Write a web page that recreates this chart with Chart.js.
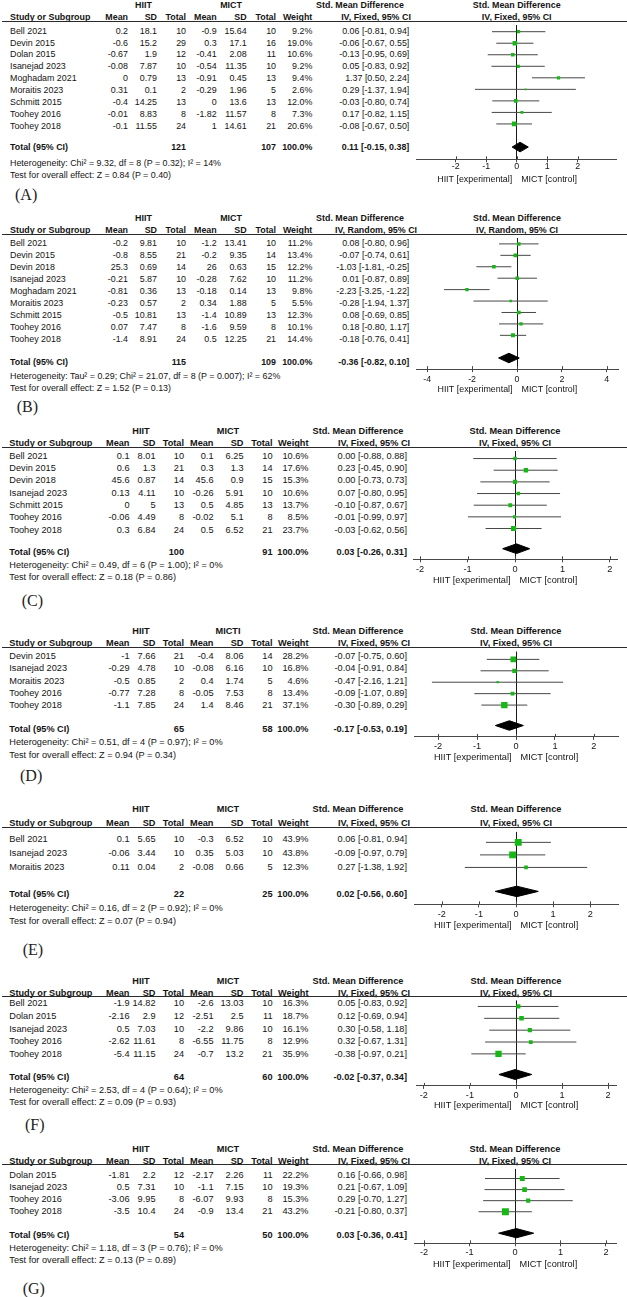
<!DOCTYPE html>
<html>
<head>
<meta charset="utf-8">
<script src="https://cdn.jsdelivr.net/npm/chart.js"></script>
<style>
html,body{margin:0;padding:0;background:#fff;}
#page{position:relative;width:627px;height:1297px;overflow:hidden;background:#fff;font-family:"Liberation Sans",Arial,Helvetica,sans-serif;font-size:9px;color:#141414;}
.t{position:absolute;white-space:nowrap;line-height:12px;height:12px;}
.b{font-weight:bold;}
.hl{position:absolute;height:1px;background:#2a2a2a;}
.lab{position:absolute;font-family:"Liberation Serif","Times New Roman",serif;font-size:16px;line-height:20px;white-space:nowrap;color:#222;}
canvas{position:absolute;}
</style>
</head>
<body>
<div id="page"></div>
<script>
// ---------------- DATA ----------------
// Panel A
const studiesA = ["Bell 2021","Devin 2015","Dolan 2015","Isanejad 2023","Moghadam 2021","Moraitis 2023","Schmitt 2015","Toohey 2016","Toohey 2018"];
const hiitMeanA = [0.2,-0.6,-0.67,-0.08,0,0.31,-0.4,-0.01,-0.1];
const hiitSdA = [18.1,15.2,1.9,7.87,0.79,0.1,14.25,8.83,11.55];
const hiitNA = [10,29,12,10,13,2,13,8,24];
const mictMeanA = [-0.9,0.3,-0.41,-0.54,-0.91,-0.29,0,-1.82,1];
const mictSdA = [15.64,17.1,2.08,11.35,0.45,1.96,13.6,11.57,14.61];
const mictNA = [10,16,11,10,13,5,13,8,21];
const weightA = [9.2,19.0,10.6,9.2,9.4,2.6,12.0,7.3,20.6];
const smdA = [0.06,-0.06,-0.13,0.05,1.37,0.29,-0.03,0.17,-0.08];
const ciLowA = [-0.81,-0.67,-0.95,-0.83,0.50,-1.37,-0.80,-0.82,-0.67];
const ciHighA = [0.94,0.55,0.69,0.92,2.24,1.94,0.74,1.15,0.50];
const totalNA = [121,107];
const totalSmdA = [0.11,-0.15,0.38];
const statsA = ["Heterogeneity: Chi\u00b2 = 9.32, df = 8 (P = 0.32); I\u00b2 = 14%","Test for overall effect: Z = 0.84 (P = 0.40)"];
const ticksA = [-2,-1,0,1,2];

// Panel B
const studiesB = ["Bell 2021","Devin 2015","Devin 2018","Isanejad 2023","Moghadam 2021","Moraitis 2023","Schmitt 2015","Toohey 2016","Toohey 2018"];
const hiitMeanB = [-0.2,-0.8,25.3,-0.21,-0.81,-0.23,-0.5,0.07,-1.4];
const hiitSdB = [9.81,8.55,0.69,5.87,0.36,0.57,10.81,7.47,8.91];
const hiitNB = [10,21,14,10,13,2,13,8,24];
const mictMeanB = [-1.2,-0.2,26,-0.28,-0.18,0.34,-1.4,-1.6,0.5];
const mictSdB = [13.41,9.35,0.63,7.62,0.14,1.88,10.89,9.59,12.25];
const mictNB = [10,14,15,10,13,5,13,8,21];
const weightB = [11.2,13.4,12.2,11.2,9.8,5.5,12.3,10.1,14.4];
const smdB = [0.08,-0.07,-1.03,0.01,-2.23,-0.28,0.08,0.18,-0.18];
const ciLowB = [-0.80,-0.74,-1.81,-0.87,-3.25,-1.94,-0.69,-0.80,-0.76];
const ciHighB = [0.96,0.61,-0.25,0.89,-1.22,1.37,0.85,1.17,0.41];
const totalNB = [115,109];
const totalSmdB = [-0.36,-0.82,0.10];
const statsB = ["Heterogeneity: Tau\u00b2 = 0.29; Chi\u00b2 = 21.07, df = 8 (P = 0.007); I\u00b2 = 62%","Test for overall effect: Z = 1.52 (P = 0.13)"];
const ticksB = [-4,-2,0,2,4];

// Panel C
const studiesC = ["Bell 2021","Devin 2015","Devin 2018","Isanejad 2023","Schmitt 2015","Toohey 2016","Toohey 2018"];
const hiitMeanC = [0.1,0.6,45.6,0.13,0,-0.06,0.3];
const hiitSdC = [8.01,1.3,0.87,4.11,5,4.49,6.84];
const hiitNC = [10,21,14,10,13,8,24];
const mictMeanC = [0.1,0.3,45.6,-0.26,0.5,-0.02,0.5];
const mictSdC = [6.25,1.3,0.9,5.91,4.85,5.1,6.52];
const mictNC = [10,14,15,10,13,8,21];
const weightC = [10.6,17.6,15.3,10.6,13.7,8.5,23.7];
const smdC = [0.00,0.23,0.00,0.07,-0.10,-0.01,-0.03];
const ciLowC = [-0.88,-0.45,-0.73,-0.80,-0.87,-0.99,-0.62];
const ciHighC = [0.88,0.90,0.73,0.95,0.67,0.97,0.56];
const totalNC = [100,91];
const totalSmdC = [0.03,-0.26,0.31];
const statsC = ["Heterogeneity: Chi\u00b2 = 0.49, df = 6 (P = 1.00); I\u00b2 = 0%","Test for overall effect: Z = 0.18 (P = 0.86)"];
const ticksC = [-2,-1,0,1,2];

// Panel D
const studiesD = ["Devin 2015","Isanejad 2023","Moraitis 2023","Toohey 2016","Toohey 2018"];
const hiitMeanD = [-1,-0.29,-0.5,-0.77,-1.1];
const hiitSdD = [7.66,4.78,0.85,7.28,7.85];
const hiitND = [21,10,2,8,24];
const mictMeanD = [-0.4,-0.08,0.4,-0.05,1.4];
const mictSdD = [8.06,6.16,1.74,7.53,8.46];
const mictND = [14,10,5,8,21];
const weightD = [28.2,16.8,4.6,13.4,37.1];
const smdD = [-0.07,-0.04,-0.47,-0.09,-0.30];
const ciLowD = [-0.75,-0.91,-2.16,-1.07,-0.89];
const ciHighD = [0.60,0.84,1.21,0.89,0.29];
const totalND = [65,58];
const totalSmdD = [-0.17,-0.53,0.19];
const statsD = ["Heterogeneity: Chi\u00b2 = 0.51, df = 4 (P = 0.97); I\u00b2 = 0%","Test for overall effect: Z = 0.94 (P = 0.34)"];
const ticksD = [-2,-1,0,1,2];

// Panel E
const studiesE = ["Bell 2021","Isanejad 2023","Moraitis 2023"];
const hiitMeanE = [0.1,-0.06,0.11];
const hiitSdE = [5.65,3.44,0.04];
const hiitNE = [10,10,2];
const mictMeanE = [-0.3,0.35,-0.08];
const mictSdE = [6.52,5.03,0.66];
const mictNE = [10,10,5];
const weightE = [43.9,43.8,12.3];
const smdE = [0.06,-0.09,0.27];
const ciLowE = [-0.81,-0.97,-1.38];
const ciHighE = [0.94,0.79,1.92];
const totalNE = [22,25];
const totalSmdE = [0.02,-0.56,0.60];
const statsE = ["Heterogeneity: Chi\u00b2 = 0.16, df = 2 (P = 0.92); I\u00b2 = 0%","Test for overall effect: Z = 0.07 (P = 0.94)"];
const ticksE = [-2,-1,0,1,2];

// Panel F
const studiesF = ["Bell 2021","Dolan 2015","Isanejad 2023","Toohey 2016","Toohey 2018"];
const hiitMeanF = [-1.9,-2.16,0.5,-2.62,-5.4];
const hiitSdF = [14.82,2.9,7.03,11.61,11.15];
const hiitNF = [10,12,10,8,24];
const mictMeanF = [-2.6,-2.51,-2.2,-6.55,-0.7];
const mictSdF = [13.03,2.5,9.86,11.75,13.2];
const mictNF = [10,11,10,8,21];
const weightF = [16.3,18.7,16.1,12.9,35.9];
const smdF = [0.05,0.12,0.30,0.32,-0.38];
const ciLowF = [-0.83,-0.69,-0.58,-0.67,-0.97];
const ciHighF = [0.92,0.94,1.18,1.31,0.21];
const totalNF = [64,60];
const totalSmdF = [-0.02,-0.37,0.34];
const statsF = ["Heterogeneity: Chi\u00b2 = 2.53, df = 4 (P = 0.64); I\u00b2 = 0%","Test for overall effect: Z = 0.09 (P = 0.93)"];
const ticksF = [-2,-1,0,1,2];

// Panel G
const studiesG = ["Dolan 2015","Isanejad 2023","Toohey 2016","Toohey 2018"];
const hiitMeanG = [-1.81,0.5,-3.06,-3.5];
const hiitSdG = [2.2,7.31,9.95,10.4];
const hiitNG = [12,10,8,24];
const mictMeanG = [-2.17,-1.1,-6.07,-0.9];
const mictSdG = [2.26,7.15,9.93,13.4];
const mictNG = [11,10,8,21];
const weightG = [22.2,19.3,15.3,43.2];
const smdG = [0.16,0.21,0.29,-0.21];
const ciLowG = [-0.66,-0.67,-0.70,-0.80];
const ciHighG = [0.98,1.09,1.27,0.37];
const totalNG = [54,50];
const totalSmdG = [0.03,-0.36,0.41];
const statsG = ["Heterogeneity: Chi\u00b2 = 1.18, df = 3 (P = 0.76); I\u00b2 = 0%","Test for overall effect: Z = 0.13 (P = 0.89)"];
const ticksG = [-2,-1,0,1,2];

// ---------------- LAYOUT ----------------
const colsAB = {name:10, hm:128, hsd:157, hn:186, mm:216.7, msd:246.7, mn:276, w:312.3, ci:409.3, hiitC:143.5, mictC:231, smdC:360, ivC:376, fs:8.9};
const colsCG = {name:9.3, hm:129.5, hsd:155.5, hn:184, mm:213.5, msd:243.5, mn:272.5, w:308.5, ci:407, hiitC:141, mictC:228, smdC:358, ivC:374, fs:9.2};

const panels = [
  {label:"(A)", studies:studiesA, hiitMean:hiitMeanA, hiitSd:hiitSdA, hiitN:hiitNA, mictMean:mictMeanA, mictSd:mictSdA, mictN:mictNA, weight:weightA, smd:smdA, ciLow:ciLowA, ciHigh:ciHighA, totalN:totalNA, totalSmd:totalSmdA, stats:statsA, ticks:ticksA, mictHeader:"MICT", method:"IV, Fixed, 95% CI", cols:colsAB,
   L:{hdr1:5, hdr2:17, ul:21, row0:30.7, step:11.875, lineOff:-2.8, totalY:147.3, hetY:163.3, testY:175, axisY:159.3, tickY:166.7, titleY:180, labelX:15, labelY:196, diamondY:146.7, ax0:416.7, ax1:616.7, range:3.28}},
  {label:"(B)", studies:studiesB, hiitMean:hiitMeanB, hiitSd:hiitSdB, hiitN:hiitNB, mictMean:mictMeanB, mictSd:mictSdB, mictN:mictNB, weight:weightB, smd:smdB, ciLow:ciLowB, ciHigh:ciHighB, totalN:totalNB, totalSmd:totalSmdB, stats:statsB, ticks:ticksB, mictHeader:"MICT", method:"IV, Random, 95% CI", cols:colsAB,
   L:{hdr1:218, hdr2:229.7, ul:233.7, row0:243, step:12, lineOff:-2.8, totalY:361.7, hetY:375.7, testY:388.3, axisY:371.7, tickY:381.7, titleY:392.3, labelX:16.7, labelY:408.3, diamondY:360, ax0:416, ax1:618, range:4.5}},
  {label:"(C)", studies:studiesC, hiitMean:hiitMeanC, hiitSd:hiitSdC, hiitN:hiitNC, mictMean:mictMeanC, mictSd:mictSdC, mictN:mictNC, weight:weightC, smd:smdC, ciLow:ciLowC, ciHigh:ciHighC, totalN:totalNC, totalSmd:totalSmdC, stats:statsC, ticks:ticksC, mictHeader:"MICT", method:"IV, Fixed, 95% CI", cols:colsCG,
   L:{hdr1:430.5, hdr2:443, ul:446.7, row0:455.5, step:12.35, lineOff:-0.5, totalY:551.7, hetY:564.5, testY:577, axisY:561.7, tickY:571.7, titleY:582.7, labelX:21.7, labelY:601.7, diamondY:550.5, ax0:413, ax1:617, range:2.15}},
  {label:"(D)", studies:studiesD, hiitMean:hiitMeanD, hiitSd:hiitSdD, hiitN:hiitND, mictMean:mictMeanD, mictSd:mictSdD, mictN:mictND, weight:weightD, smd:smdD, ciLow:ciLowD, ciHigh:ciHighD, totalN:totalND, totalSmd:totalSmdD, stats:statsD, ticks:ticksD, mictHeader:"MICTI", method:"IV, Fixed, 95% CI", cols:colsCG,
   L:{hdr1:630.7, hdr2:643.3, ul:646.7, row0:656, step:12.35, lineOff:-0.5, totalY:728.5, hetY:741.5, testY:754.5, axisY:739.3, tickY:749.3, titleY:760, labelX:20, labelY:776.7, diamondY:727, ax0:414, ax1:618, range:2.62}},
  {label:"(E)", studies:studiesE, hiitMean:hiitMeanE, hiitSd:hiitSdE, hiitN:hiitNE, mictMean:mictMeanE, mictSd:mictSdE, mictN:mictNE, weight:weightE, smd:smdE, ciLow:ciLowE, ciHigh:ciHighE, totalN:totalNE, totalSmd:totalSmdE, stats:statsE, ticks:ticksE, mictHeader:"MICT", method:"IV, Fixed, 95% CI", cols:colsCG,
   L:{hdr1:809.3, hdr2:823, ul:826.5, row0:839, step:13.8, lineOff:-0.5, totalY:894.3, hetY:907.5, testY:920.5, axisY:906.7, tickY:916.7, titleY:927.7, labelX:22.7, labelY:950.5, diamondY:892.5, ax0:414, ax1:618, range:2.75}},
  {label:"(F)", studies:studiesF, hiitMean:hiitMeanF, hiitSd:hiitSdF, hiitN:hiitNF, mictMean:mictMeanF, mictSd:mictSdF, mictN:mictNF, weight:weightF, smd:smdF, ciLow:ciLowF, ciHigh:ciHighF, totalN:totalNF, totalSmd:totalSmdF, stats:statsF, ticks:ticksF, mictHeader:"MICT", method:"IV, Fixed, 95% CI", cols:colsCG,
   L:{hdr1:981, hdr2:992.7, ul:996.2, row0:1003, step:12.8, lineOff:-0.5, totalY:1076.8, hetY:1089.5, testY:1101.7, axisY:1088.3, tickY:1098.3, titleY:1108.3, labelX:25, labelY:1126, diamondY:1076, ax0:416, ax1:616, range:2.17}},
  {label:"(G)", studies:studiesG, hiitMean:hiitMeanG, hiitSd:hiitSdG, hiitN:hiitNG, mictMean:mictMeanG, mictSd:mictSdG, mictN:mictNG, weight:weightG, smd:smdG, ciLow:ciLowG, ciHigh:ciHighG, totalN:totalNG, totalSmd:totalSmdG, stats:statsG, ticks:ticksG, mictHeader:"MICT", method:"IV, Fixed, 95% CI", cols:colsCG,
   L:{hdr1:1148.7, hdr2:1161, ul:1164.2, row0:1175, step:12.05, lineOff:-0.5, totalY:1234.6, hetY:1247.6, testY:1259.6, axisY:1245, tickY:1254.3, titleY:1265.7, labelX:22.7, labelY:1289.5, diamondY:1234, ax0:414, ax1:616, range:2.22}}
];

const FONT = '"Liberation Sans", Arial, Helvetica, sans-serif';
const CI_COLOR = '#474747';
const SQ_COLOR = '#16b816';
const TXT_COLOR = '#141414';
const page = document.getElementById('page');

function txt(x, y, s, align, bold, fs) {
  const d = document.createElement('div');
  d.className = 't' + (bold ? ' b' : '');
  d.textContent = s;
  d.style.fontSize = fs + 'px';
  d.style.top = (y - 6) + 'px';
  if (align === 'right') { d.style.left = (x - 300) + 'px'; d.style.width = '300px'; d.style.textAlign = 'right'; }
  else if (align === 'center') { d.style.left = (x - 150) + 'px'; d.style.width = '300px'; d.style.textAlign = 'center'; }
  else { d.style.left = x + 'px'; }
  page.appendChild(d);
}
function hline(x0, x1, y) {
  const d = document.createElement('div');
  d.className = 'hl';
  d.style.left = x0 + 'px'; d.style.width = (x1 - x0) + 'px'; d.style.top = Math.round(y) + 'px';
  page.appendChild(d);
}
const fmtCI = (e, l, h) => e.toFixed(2) + ' [' + l.toFixed(2) + ', ' + h.toFixed(2) + ']';

function drawTable(p) {
  const C = p.cols, L = p.L, fs = C.fs;
  const zeroX = (L.ax0 + L.ax1) / 2;
  txt(C.hiitC, L.hdr1, 'HIIT', 'center', true, fs);
  txt(C.mictC, L.hdr1, p.mictHeader, 'center', true, fs);
  txt(C.smdC, L.hdr1, 'Std. Mean Difference', 'center', true, fs);
  txt(zeroX, L.hdr1, 'Std. Mean Difference', 'center', true, fs);
  txt(C.name, L.hdr2, 'Study or Subgroup', 'left', true, fs);
  [['Mean', C.hm], ['SD', C.hsd], ['Total', C.hn], ['Mean', C.mm], ['SD', C.msd], ['Total', C.mn], ['Weight', C.w]]
    .forEach(([s, x]) => txt(x, L.hdr2, s, 'right', true, fs));
  txt(C.ivC, L.hdr2, p.method, 'center', true, fs);
  txt(zeroX, L.hdr2, p.method, 'center', true, fs);
  hline(2, 627, L.ul);
  p.studies.forEach((s, i) => {
    const y = L.row0 + i * L.step;
    txt(C.name, y, s, 'left', false, fs);
    txt(C.hm, y, String(p.hiitMean[i]), 'right', false, fs);
    txt(C.hsd, y, String(p.hiitSd[i]), 'right', false, fs);
    txt(C.hn, y, String(p.hiitN[i]), 'right', false, fs);
    txt(C.mm, y, String(p.mictMean[i]), 'right', false, fs);
    txt(C.msd, y, String(p.mictSd[i]), 'right', false, fs);
    txt(C.mn, y, String(p.mictN[i]), 'right', false, fs);
    txt(C.w, y, p.weight[i].toFixed(1) + '%', 'right', false, fs);
    txt(C.ci, y, fmtCI(p.smd[i], p.ciLow[i], p.ciHigh[i]), 'right', false, fs);
  });
  txt(C.name, L.totalY, 'Total (95% CI)', 'left', true, fs);
  txt(C.hn, L.totalY, String(p.totalN[0]), 'right', true, fs);
  txt(C.mn, L.totalY, String(p.totalN[1]), 'right', true, fs);
  txt(C.w, L.totalY, '100.0%', 'right', true, fs);
  txt(C.ci, L.totalY, fmtCI(p.totalSmd[0], p.totalSmd[1], p.totalSmd[2]), 'right', true, fs);
  txt(C.name, L.hetY, p.stats[0], 'left', false, fs);
  txt(C.name, L.testY, p.stats[1], 'left', false, fs);
  const lb = document.createElement('div');
  lb.className = 'lab';
  lb.textContent = p.label;
  lb.style.left = L.labelX + 'px';
  lb.style.top = (L.labelY - 11) + 'px';
  page.appendChild(lb);
}

const forestDecor = {
  id: 'forestDecor',
  afterDraw(chart, args, opts) {
    const x = chart.scales.x, ctx = chart.ctx, area = chart.chartArea;
    ctx.save();
    ctx.strokeStyle = CI_COLOR; ctx.lineWidth = 1;
    x.ticks.forEach(t => {
      const px = Math.round(x.getPixelForValue(t.value)) + 0.5;
      ctx.beginPath(); ctx.moveTo(px, area.bottom - 3); ctx.lineTo(px, area.bottom); ctx.stroke();
    });
    ctx.fillStyle = TXT_COLOR;
    ctx.font = opts.fs + 'px ' + FONT;
    ctx.textBaseline = 'middle';
    const z = x.getPixelForValue(0), ty = area.bottom + opts.titleDy;
    ctx.textAlign = 'right'; ctx.fillText('HIIT [experimental]', z - 4.5, ty);
    ctx.textAlign = 'left'; ctx.fillText('MICT [control]', z + 4.5, ty);
    ctx.restore();
  }
};

function makeChart(p) {
  const L = p.L, fs = p.cols.fs;
  const cLeft = 396, cW = 627 - cLeft;
  const cTop = Math.round(L.ul);
  const cH = Math.ceil(L.titleY + 8) - cTop;
  const lineRow0 = L.row0 + L.lineOff;
  const yOf = px => (px - lineRow0) / L.step;
  const tl = 3, tf = fs;
  const tickPad = Math.max(0, (L.tickY - L.axisY) - tl - tf / 2);
  const padBottom = cH - (L.axisY - cTop) - (tl + tickPad + tf);
  const canvas = document.createElement('canvas');
  canvas.width = cW; canvas.height = cH;
  canvas.style.left = cLeft + 'px'; canvas.style.top = cTop + 'px';
  canvas.style.width = cW + 'px'; canvas.style.height = cH + 'px';
  page.appendChild(canvas);

  const n = p.studies.length;
  const ciData = [];
  for (let i = 0; i < n; i++) { ciData.push({x: p.ciLow[i], y: i}, {x: p.ciHigh[i], y: i}); }
  const sqData = p.smd.map((v, i) => ({x: v, y: i}));
  const sqR = p.weight.map(w => Math.max(1.6, 1.05 * Math.sqrt(w)) / Math.SQRT2);
  const yT = yOf(L.diamondY);
  const hh = (5 * L.step / 12) / L.step;
  const tE = p.totalSmd[0], tLo = p.totalSmd[1], tHi = p.totalSmd[2];
  const dia = [{x: tLo, y: yT}, {x: tE, y: yT - hh}, {x: tHi, y: yT}, {x: tE, y: yT + hh}, {x: tLo, y: yT}];

  new Chart(canvas, {
    type: 'scatter',
    data: { datasets: [
      {type: 'line', data: ciData, borderColor: CI_COLOR, borderWidth: 1, pointRadius: 0, fill: false, tension: 0, order: 3,
       segment: {borderColor: c => (c.p0DataIndex % 2 === 0 ? CI_COLOR : 'rgba(0,0,0,0)')}},
      {type: 'line', data: dia, borderColor: '#000', backgroundColor: '#000', borderWidth: 1, pointRadius: 0, fill: 'shape', tension: 0, order: 2},
      {type: 'scatter', data: sqData, pointStyle: 'rect', pointRadius: sqR, pointBackgroundColor: SQ_COLOR, backgroundColor: SQ_COLOR, pointBorderWidth: 0, borderWidth: 0, order: 1}
    ]},
    options: {
      responsive: false, animation: false, events: [],
      layout: {padding: {left: L.ax0 - cLeft, right: 627 - L.ax1, top: 0, bottom: padBottom}},
      plugins: {legend: {display: false}, tooltip: {enabled: false}, forestDecor: {titleDy: L.titleY - L.axisY, fs: fs}},
      scales: {
        x: {type: 'linear', min: -L.range, max: L.range,
            afterBuildTicks: a => { a.ticks = p.ticks.map(v => ({value: v})); },
            ticks: {callback: v => String(v), font: {family: FONT, size: tf, lineHeight: 1}, color: TXT_COLOR, padding: tickPad, maxRotation: 0, autoSkip: false},
            grid: {color: c => ((c.tick && c.tick.value === 0) ? '#1a1a1a' : 'rgba(0,0,0,0)'), lineWidth: 1, drawTicks: true, tickLength: tl, tickColor: CI_COLOR, tickWidth: 1},
            border: {display: true, color: CI_COLOR, width: 1}},
        y: {type: 'linear', reverse: true, min: yOf(cTop), max: yOf(L.axisY), display: false}
      }
    },
    plugins: [forestDecor]
  });
}

panels.forEach(p => { drawTable(p); makeChart(p); });
</script>
</body>
</html>
